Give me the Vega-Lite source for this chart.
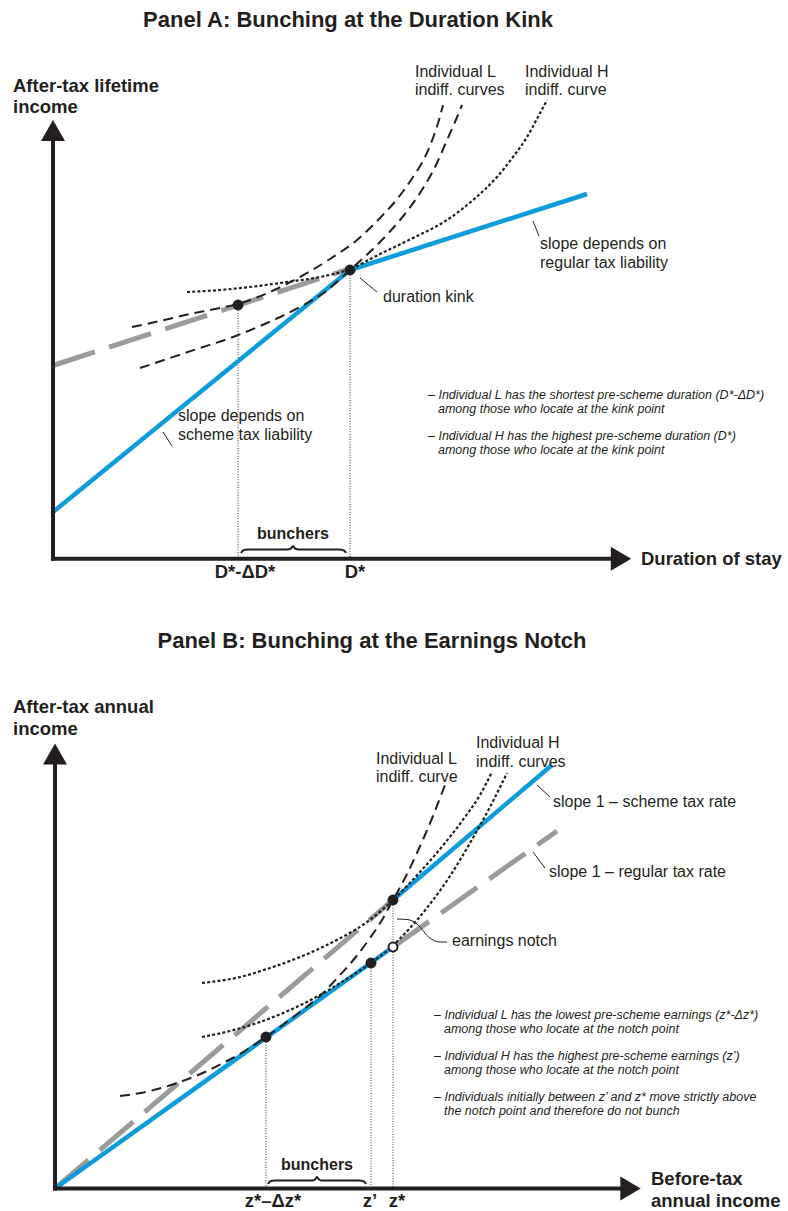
{
"$schema": "https://vega.github.io/schema/vega-lite/v6.json",
"width": 788, "height": 1211,
"autosize": {"type": "fit", "contains": "padding"},
"padding": 0,
"background": "white",
"config": {"view": {"stroke": null}},
"datasets": {
"vlines": [{"x":238,"y":305,"x2":238,"y2":557},{"x":350,"y":270,"x2":350,"y2":557},{"x":266,"y":1037,"x2":266,"y2":1187},{"x":371,"y":963,"x2":371,"y2":1187},{"x":393,"y":900,"x2":393,"y2":1187}],
"gray": [{"id":"a","i":0,"x":53,"y":365.5},{"id":"a","i":1,"x":346,"y":270},{"id":"b1","i":0,"x":55,"y":1188.5},{"id":"b1","i":1,"x":393,"y":900},{"id":"b2","i":0,"x":393,"y":947},{"id":"b2","i":1,"x":557,"y":831}],
"blue": [{"id":"a","i":0,"x":53,"y":512},{"id":"a","i":1,"x":350,"y":270},{"id":"a","i":2,"x":587,"y":194},{"id":"b1","i":0,"x":55,"y":1188.5},{"id":"b1","i":1,"x":393,"y":947},{"id":"b2","i":0,"x":393,"y":900},{"id":"b2","i":1,"x":552,"y":765}],
"curvesL": [
{"id":"aL1","i":0,"x":132,"y":327},{"id":"aL1","i":1,"x":160,"y":321},{"id":"aL1","i":2,"x":190,"y":314},{"id":"aL1","i":3,"x":215,"y":309},{"id":"aL1","i":4,"x":238,"y":304},{"id":"aL1","i":5,"x":270,"y":292},{"id":"aL1","i":6,"x":300,"y":277},{"id":"aL1","i":7,"x":330,"y":259},{"id":"aL1","i":8,"x":357,"y":240},{"id":"aL1","i":9,"x":380,"y":218},{"id":"aL1","i":10,"x":398,"y":198},{"id":"aL1","i":11,"x":413,"y":177},{"id":"aL1","i":12,"x":425,"y":157},{"id":"aL1","i":13,"x":433,"y":138},{"id":"aL1","i":14,"x":439,"y":120},{"id":"aL1","i":15,"x":443,"y":105},
{"id":"aL2","i":0,"x":140,"y":368},{"id":"aL2","i":1,"x":167,"y":359},{"id":"aL2","i":2,"x":197,"y":349},{"id":"aL2","i":3,"x":233,"y":337},{"id":"aL2","i":4,"x":267,"y":323},{"id":"aL2","i":5,"x":300,"y":307},{"id":"aL2","i":6,"x":325,"y":292},{"id":"aL2","i":7,"x":350,"y":270},{"id":"aL2","i":8,"x":380,"y":242},{"id":"aL2","i":9,"x":400,"y":220},{"id":"aL2","i":10,"x":420,"y":193},{"id":"aL2","i":11,"x":437,"y":163},{"id":"aL2","i":12,"x":447,"y":140},{"id":"aL2","i":13,"x":455,"y":122},{"id":"aL2","i":14,"x":462,"y":105},
{"id":"bL","i":0,"x":120,"y":1096},{"id":"bL","i":1,"x":150,"y":1091},{"id":"bL","i":2,"x":180,"y":1082},{"id":"bL","i":3,"x":205,"y":1072},{"id":"bL","i":4,"x":227,"y":1061},{"id":"bL","i":5,"x":248,"y":1049},{"id":"bL","i":6,"x":266,"y":1037},{"id":"bL","i":7,"x":300,"y":1012},{"id":"bL","i":8,"x":320,"y":996},{"id":"bL","i":9,"x":340,"y":975},{"id":"bL","i":10,"x":355,"y":958},{"id":"bL","i":11,"x":370,"y":938},{"id":"bL","i":12,"x":382,"y":920},{"id":"bL","i":13,"x":393,"y":900},{"id":"bL","i":14,"x":405,"y":878},{"id":"bL","i":15,"x":416,"y":855},{"id":"bL","i":16,"x":425,"y":835},{"id":"bL","i":17,"x":433,"y":816},{"id":"bL","i":18,"x":440,"y":798},{"id":"bL","i":19,"x":445,"y":785}
],
"curvesH": [
{"id":"aH","i":0,"x":187,"y":292},{"id":"aH","i":1,"x":220,"y":290},{"id":"aH","i":2,"x":250,"y":287},{"id":"aH","i":3,"x":287,"y":282},{"id":"aH","i":4,"x":320,"y":277},{"id":"aH","i":5,"x":350,"y":269},{"id":"aH","i":6,"x":380,"y":254},{"id":"aH","i":7,"x":413,"y":238},{"id":"aH","i":8,"x":447,"y":220},{"id":"aH","i":9,"x":473,"y":200},{"id":"aH","i":10,"x":497,"y":177},{"id":"aH","i":11,"x":513,"y":157},{"id":"aH","i":12,"x":527,"y":137},{"id":"aH","i":13,"x":538,"y":117},{"id":"aH","i":14,"x":547,"y":100},
{"id":"bH1","i":0,"x":202,"y":983},{"id":"bH1","i":1,"x":240,"y":977},{"id":"bH1","i":2,"x":267,"y":969},{"id":"bH1","i":3,"x":300,"y":957},{"id":"bH1","i":4,"x":333,"y":942},{"id":"bH1","i":5,"x":367,"y":922},{"id":"bH1","i":6,"x":393,"y":900},{"id":"bH1","i":7,"x":420,"y":872},{"id":"bH1","i":8,"x":445,"y":843},{"id":"bH1","i":9,"x":465,"y":817},{"id":"bH1","i":10,"x":480,"y":795},{"id":"bH1","i":11,"x":492,"y":772},
{"id":"bH2","i":0,"x":202,"y":1037},{"id":"bH2","i":1,"x":230,"y":1031},{"id":"bH2","i":2,"x":260,"y":1022},{"id":"bH2","i":3,"x":290,"y":1010},{"id":"bH2","i":4,"x":320,"y":995},{"id":"bH2","i":5,"x":345,"y":980},{"id":"bH2","i":6,"x":371,"y":963},{"id":"bH2","i":7,"x":390,"y":948},{"id":"bH2","i":8,"x":410,"y":928},{"id":"bH2","i":9,"x":430,"y":904},{"id":"bH2","i":10,"x":450,"y":876},{"id":"bH2","i":11,"x":470,"y":843},{"id":"bH2","i":12,"x":490,"y":807},{"id":"bH2","i":13,"x":507,"y":773}
],
"leaders": [{"x":533,"y":221,"x2":539,"y2":236},{"x":360,"y":278,"x2":377,"y2":292},{"x":163,"y":432,"x2":172,"y2":446},{"x":537,"y":785,"x2":550,"y2":797},{"x":533,"y":852,"x2":545,"y2":868}],
"notchLeader": [{"i":0,"x":397,"y":919},{"i":1,"x":407,"y":919.5},{"i":2,"x":415,"y":922.5},{"i":3,"x":421,"y":928},{"i":4,"x":427,"y":935.5},{"i":5,"x":433,"y":940},{"i":6,"x":440,"y":942},{"i":7,"x":447,"y":942}],
"braces": [
{"id":"a","i":0,"x":241,"y":553},{"id":"a","i":1,"x":243,"y":550.5},{"id":"a","i":2,"x":248,"y":549.5},{"id":"a","i":3,"x":287,"y":549.5},{"id":"a","i":4,"x":291,"y":548.5},{"id":"a","i":5,"x":293,"y":546},{"id":"a","i":6,"x":295,"y":548.5},{"id":"a","i":7,"x":299,"y":549.5},{"id":"a","i":8,"x":339,"y":549.5},{"id":"a","i":9,"x":344,"y":550.5},{"id":"a","i":10,"x":346,"y":553},
{"id":"b","i":0,"x":268,"y":1184},{"id":"b","i":1,"x":270,"y":1181.5},{"id":"b","i":2,"x":275,"y":1180.5},{"id":"b","i":3,"x":312,"y":1180.5},{"id":"b","i":4,"x":315,"y":1179.5},{"id":"b","i":5,"x":317,"y":1177},{"id":"b","i":6,"x":319,"y":1179.5},{"id":"b","i":7,"x":322,"y":1180.5},{"id":"b","i":8,"x":359,"y":1180.5},{"id":"b","i":9,"x":364,"y":1181.5},{"id":"b","i":10,"x":366,"y":1184}
],
"dots": [{"x":238,"y":305},{"x":350,"y":270},{"x":266,"y":1037},{"x":371,"y":963},{"x":393,"y":900}],
"openDots": [{"x":393,"y":947}],
"axes": [{"x":53,"y":560.7,"x2":53,"y2":140},{"x":51,"y":558.7,"x2":612,"y2":558.7},{"x":55,"y":1190.5,"x2":55,"y2":764},{"x":53,"y":1188.5,"x2":621,"y2":1188.5}],
"arrowsUp": [{"x":53,"y":130.5},{"x":55,"y":754}],
"arrowsRight": [{"x":621,"y":558.7},{"x":630.5,"y":1188.5}],
"titles": [{"x":348,"y":27,"t":"Panel A: Bunching at the Duration Kink"},{"x":372,"y":648,"t":"Panel B: Bunching at the Earnings Notch"}],
"boldLeft": [{"x":13,"y":92,"t":"After-tax lifetime"},{"x":13,"y":113,"t":"income"},{"x":641,"y":565,"t":"Duration of stay"},{"x":13,"y":713,"t":"After-tax annual"},{"x":13,"y":735,"t":"income"},{"x":651,"y":1185,"t":"Before-tax"},{"x":651,"y":1207,"t":"annual income"}],
"boldCenter": [{"x":245,"y":578,"t":"D*-ΔD*"},{"x":355,"y":578,"t":"D*"},{"x":273,"y":1207,"t":"z*–Δz*"},{"x":370,"y":1207,"t":"z’"},{"x":397,"y":1207,"t":"z*"}],
"bunchers": [{"x":293,"y":539,"t":"bunchers"},{"x":317,"y":1170,"t":"bunchers"}],
"regular": [{"x":415,"y":77,"t":"Individual L"},{"x":415,"y":95,"t":"indiff. curves"},{"x":525,"y":77,"t":"Individual H"},{"x":525,"y":95,"t":"indiff. curve"},{"x":540,"y":249,"t":"slope depends on"},{"x":540,"y":268,"t":"regular tax liability"},{"x":383,"y":302,"t":"duration kink"},{"x":178,"y":421,"t":"slope depends on"},{"x":178,"y":440,"t":"scheme tax liability"},{"x":376,"y":764,"t":"Individual L"},{"x":376,"y":782,"t":"indiff. curve"},{"x":476,"y":748,"t":"Individual H"},{"x":476,"y":767,"t":"indiff. curves"},{"x":553,"y":807,"t":"slope 1 – scheme tax rate"},{"x":549,"y":877,"t":"slope 1 – regular tax rate"},{"x":452,"y":946,"t":"earnings notch"}],
"italic": [{"x":428,"y":399,"t":"– Individual L has the shortest pre-scheme duration (D*-ΔD*)"},{"x":438,"y":413,"t":"among those who locate at the kink point"},{"x":428,"y":440,"t":"– Individual H has the highest pre-scheme duration (D*)"},{"x":438,"y":454,"t":"among those who locate at the kink point"},{"x":434,"y":1019,"t":"– Individual L has the lowest pre-scheme earnings (z*-Δz*)"},{"x":444,"y":1033,"t":"among those who locate at the notch point"},{"x":434,"y":1060,"t":"– Individual H has the highest pre-scheme earnings (z’)"},{"x":444,"y":1074,"t":"among those who locate at the notch point"},{"x":434,"y":1101,"t":"– Individuals initially between z’ and z* move strictly above"},{"x":444,"y":1115,"t":"the notch point and therefore do not bunch"}]
},
"encoding": {
"x": {"field": "x", "type": "quantitative", "scale": {"domain": [0, 788], "nice": false, "zero": false}, "axis": null},
"y": {"field": "y", "type": "quantitative", "scale": {"domain": [0, 1211], "reverse": true, "nice": false, "zero": false}, "axis": null}
},
"layer": [
{"data": {"name": "vlines"}, "mark": {"type": "rule", "color": "#333333", "strokeWidth": 1, "strokeDash": [1, 1.6]}, "encoding": {"x2": {"field": "x2"}, "y2": {"field": "y2"}}},
{"data": {"name": "gray"}, "mark": {"type": "line", "color": "#9b9b9b", "strokeWidth": 5, "strokeDash": [44, 15], "strokeCap": "butt"}, "encoding": {"detail": {"field": "id"}, "order": {"field": "i", "type": "quantitative"}}},
{"data": {"name": "blue"}, "mark": {"type": "line", "color": "#0c9cdc", "strokeWidth": 4.5, "strokeCap": "butt", "strokeJoin": "miter"}, "encoding": {"detail": {"field": "id"}, "order": {"field": "i", "type": "quantitative"}}},
{"data": {"name": "curvesL"}, "mark": {"type": "line", "color": "#231f20", "strokeWidth": 2, "strokeDash": [10, 6], "strokeCap": "butt", "interpolate": "monotone"}, "encoding": {"detail": {"field": "id"}, "order": {"field": "i", "type": "quantitative"}}},
{"data": {"name": "curvesH"}, "mark": {"type": "line", "color": "#231f20", "strokeWidth": 2.2, "strokeDash": [3, 2.2], "strokeCap": "butt", "interpolate": "monotone"}, "encoding": {"detail": {"field": "id"}, "order": {"field": "i", "type": "quantitative"}}},
{"data": {"name": "leaders"}, "mark": {"type": "rule", "color": "#231f20", "strokeWidth": 1}, "encoding": {"x2": {"field": "x2"}, "y2": {"field": "y2"}}},
{"data": {"name": "notchLeader"}, "mark": {"type": "line", "color": "#231f20", "strokeWidth": 1, "interpolate": "monotone"}, "encoding": {"order": {"field": "i", "type": "quantitative"}}},
{"data": {"name": "braces"}, "mark": {"type": "line", "color": "#231f20", "strokeWidth": 2, "interpolate": "monotone"}, "encoding": {"detail": {"field": "id"}, "order": {"field": "i", "type": "quantitative"}}},
{"data": {"name": "dots"}, "mark": {"type": "point", "shape": "circle", "filled": true, "size": 120, "color": "#231f20", "opacity": 1}},
{"data": {"name": "openDots"}, "mark": {"type": "point", "shape": "circle", "filled": true, "size": 80, "fill": "white", "stroke": "#231f20", "strokeWidth": 2, "opacity": 1}},
{"data": {"name": "axes"}, "mark": {"type": "rule", "color": "#231f20", "strokeWidth": 4, "strokeCap": "butt"}, "encoding": {"x2": {"field": "x2"}, "y2": {"field": "y2"}}},
{"data": {"name": "arrowsUp"}, "mark": {"type": "point", "shape": "M0,-0.875L1,0.875L-1,0.875Z", "filled": true, "size": 576, "color": "#231f20", "opacity": 1}},
{"data": {"name": "arrowsRight"}, "mark": {"type": "point", "shape": "M0.85,0L-0.85,-1L-0.85,1Z", "filled": true, "size": 576, "color": "#231f20", "opacity": 1}},
{"data": {"name": "titles"}, "mark": {"type": "text", "font": "Liberation Sans", "fontWeight": "bold", "fontSize": 22, "align": "center", "baseline": "alphabetic", "color": "#231f20"}, "encoding": {"text": {"field": "t"}}},
{"data": {"name": "boldLeft"}, "mark": {"type": "text", "font": "Liberation Sans", "fontWeight": "bold", "fontSize": 18.5, "align": "left", "baseline": "alphabetic", "color": "#231f20"}, "encoding": {"text": {"field": "t"}}},
{"data": {"name": "boldCenter"}, "mark": {"type": "text", "font": "Liberation Sans", "fontWeight": "bold", "fontSize": 18.5, "align": "center", "baseline": "alphabetic", "color": "#231f20"}, "encoding": {"text": {"field": "t"}}},
{"data": {"name": "bunchers"}, "mark": {"type": "text", "font": "Liberation Sans", "fontWeight": "bold", "fontSize": 16, "align": "center", "baseline": "alphabetic", "color": "#231f20"}, "encoding": {"text": {"field": "t"}}},
{"data": {"name": "regular"}, "mark": {"type": "text", "font": "Liberation Sans", "fontSize": 16, "align": "left", "baseline": "alphabetic", "color": "#231f20"}, "encoding": {"text": {"field": "t"}}},
{"data": {"name": "italic"}, "mark": {"type": "text", "font": "Liberation Sans", "fontStyle": "italic", "fontSize": 12.5, "align": "left", "baseline": "alphabetic", "color": "#231f20"}, "encoding": {"text": {"field": "t"}}}
]
}
